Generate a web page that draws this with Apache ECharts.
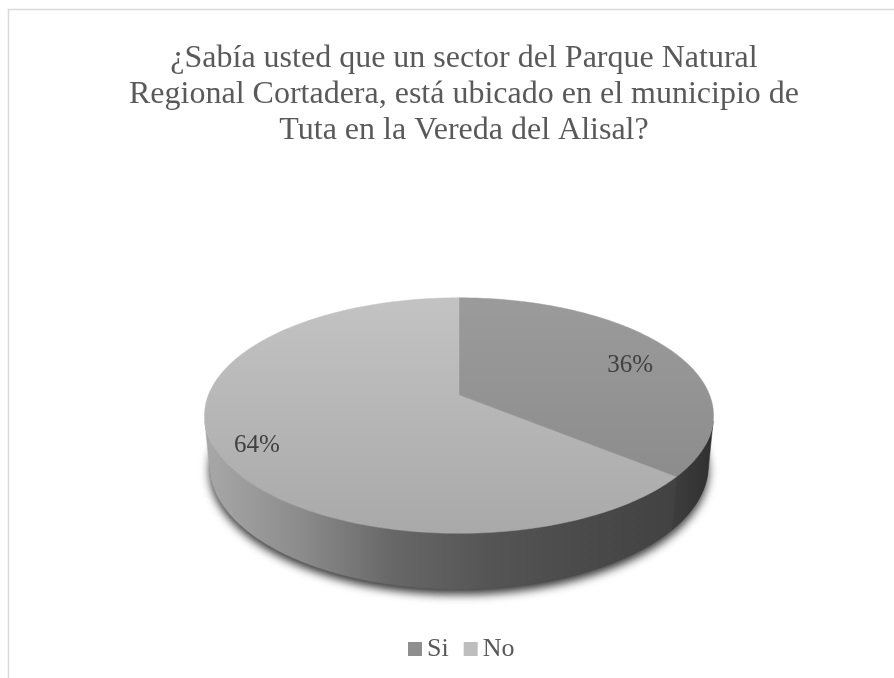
<!DOCTYPE html>
<html>
<head>
<meta charset="utf-8">
<script src="https://cdn.jsdelivr.net/npm/echarts@6/dist/echarts.min.js"></script>
<style>
  html, body { margin: 0; padding: 0; background: #fff; }
  #main { width: 894px; height: 678px; }
</style>
</head>
<body>
<div id="main"></div>
<script>
// datos
const titleLines = [
  '¿Sabía usted que un sector del Parque Natural',
  'Regional Cortadera, está ubicado en el municipio de',
  'Tuta en la Vereda del Alisal?'
];
const categories = ['Si', 'No'];
const values = [36, 64];
const legendColors = ['#8e8e8e', '#bebebe'];

// estilo de cada porción (tapa y pared)
const topStops = [
  [[0, '#9b9b9b'], [1, '#888888']],
  [[0, '#c3c3c3'], [1, '#a9a9a9']]
];
const wallStops = [
  [[0, '#3e3e3e'], [1, '#303030']],
  [[0, '#a8a8a8'], [0.2, '#8c8c8c'], [0.4, '#676767'], [0.6, '#555555'], [0.8, '#4a4a4a'], [1, '#424242']]
];

// proyección en perspectiva del disco
const CX = 459, CY = 395, F = 1278, D = 5.1, H = 0.225;
const EL = 27.1 * Math.PI / 180;
const ca = Math.cos(EL), sa = Math.sin(EL);

function proj(deg, r, y) {
  const t = deg * Math.PI / 180;
  const X = r * Math.sin(t), Z = r * Math.cos(t);
  const yc = y * ca + Z * sa;
  const zc = -y * sa + Z * ca + D;
  return [CX + F * X / zc, CY - F * yc / zc];
}

function facing(deg) {
  const t = deg * Math.PI / 180;
  const X = Math.sin(t), Z = Math.cos(t), y = -H / 2;
  const p = [X, y * ca + Z * sa, -y * sa + Z * ca + D];
  const n = [Math.sin(t), Math.cos(t) * sa, Math.cos(t) * ca];
  return -(p[0] * n[0] + p[1] * n[1] + p[2] * n[2]) > 0;
}

// rango visible de la pared exterior
let visFrom = 360, visTo = 0;
for (let d = 0; d <= 360; d += 0.25) {
  if (facing(d)) { visFrom = Math.min(visFrom, d); visTo = Math.max(visTo, d); }
}

const total = values.reduce((a, b) => a + b, 0);
function sliceRange(i) {
  let s = 0;
  for (let k = 0; k < i; k++) s += values[k];
  return [s / total * 360, (s + values[i]) / total * 360];
}

function arc(a0, a1, y) {
  const pts = [];
  const n = Math.max(2, Math.ceil(Math.abs(a1 - a0)));
  for (let k = 0; k <= n; k++) pts.push(proj(a0 + (a1 - a0) * k / n, 1, y));
  return pts;
}

function renderShadow() {
  return {
    type: 'polygon',
    shape: { points: arc(0, 360, -H) },
    style: {
      fill: '#444',
      shadowBlur: 10,
      shadowColor: 'rgba(0,0,0,0.8)',
      shadowOffsetY: 5
    }
  };
}

function renderWall(i) {
  const r = sliceRange(i);
  const a0 = Math.max(r[0], visFrom), a1 = Math.min(r[1], visTo);
  if (a1 <= a0) return { type: 'group', children: [] };
  const top = arc(a0, a1, 0);
  const bottom = arc(a1, a0, -H);
  const xs = top.concat(bottom).map(p => p[0]);
  const fill = {
    type: 'linear', global: true,
    x: Math.min(...xs), y: 0, x2: Math.max(...xs), y2: 0,
    colorStops: wallStops[i].map(s => ({ offset: s[0], color: s[1] }))
  };
  return {
    type: 'polygon',
    shape: { points: top.concat(bottom) },
    style: { fill: fill, stroke: fill, lineWidth: 0.5 }
  };
}

function renderTop(i) {
  const r = sliceRange(i);
  const pts = [proj(0, 0, 0)].concat(arc(r[0], r[1], 0));
  const yTop = proj(0, 1, 0)[1], yBot = proj(180, 1, 0)[1];
  const fill = {
    type: 'linear', global: true,
    x: 0, y: yTop, x2: 0, y2: yBot,
    colorStops: topStops[i].map(s => ({ offset: s[0], color: s[1] }))
  };
  const mid = (r[0] + r[1]) / 2;
  const lp = proj(mid, 0.82, 0);
  return {
    type: 'group',
    children: [
      { type: 'polygon', shape: { points: pts }, style: { fill: fill, stroke: fill, lineWidth: 0.5 } },
      {
        type: 'text',
        style: {
          text: Math.round(values[i] / total * 100) + '%',
          x: lp[0] - 4, y: lp[1] + 8,
          align: 'center', verticalAlign: 'middle',
          font: '25px "Liberation Serif"',
          fill: '#404040'
        }
      }
    ]
  };
}

const series = [];
series.push({
  type: 'custom', name: 'sombra', coordinateSystem: 'none', z: 1,
  data: [0], silent: true,
  renderItem: () => renderShadow()
});
categories.forEach((c, i) => {
  series.push({
    type: 'custom', name: c, coordinateSystem: 'none', z: 2,
    data: [values[i]], silent: true,
    itemStyle: { color: legendColors[i] },
    renderItem: () => renderWall(i)
  });
});
categories.forEach((c, i) => {
  series.push({
    type: 'custom', name: c, coordinateSystem: 'none', z: 3,
    data: [values[i]], silent: true,
    itemStyle: { color: legendColors[i] },
    renderItem: () => renderTop(i)
  });
});

const chart = echarts.init(document.getElementById('main'));
chart.setOption({
  backgroundColor: '#fff',
  animation: false,
  graphic: [{
    type: 'rect', z: 0,
    shape: { x: 8.5, y: 9.5, width: 900, height: 700 },
    style: { fill: 'none', stroke: '#d9d9d9', lineWidth: 1.5 }
  }],
  title: {
    text: titleLines.join('\n'),
    left: 459,
    top: 36,
    textAlign: 'center',
    textStyle: {
      fontFamily: 'Liberation Serif',
      fontSize: 32,
      fontWeight: 'normal',
      color: '#595959',
      lineHeight: 36
    }
  },
  legend: {
    data: categories.map((c, i) => ({ name: c, itemStyle: { color: legendColors[i] } })),
    left: 403,
    top: 631,
    icon: 'rect',
    itemWidth: 14,
    itemHeight: 14,
    itemGap: 15,
    selectedMode: false,
    textStyle: { fontFamily: 'Liberation Serif', fontSize: 26, color: '#595959' }
  },
  series: series
});
</script>
</body>
</html>
